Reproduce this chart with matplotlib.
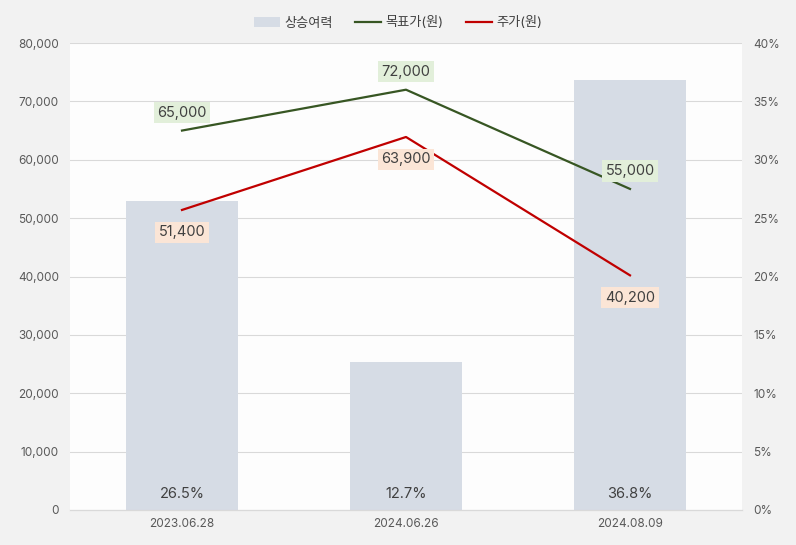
import matplotlib

matplotlib.use("Agg")
import matplotlib.pyplot as plt
from matplotlib.patches import Patch
from matplotlib.lines import Line2D
from matplotlib.ticker import FuncFormatter

plt.rcParams["font.family"] = ["Inter", "Noto Sans CJK KR", "DejaVu Sans"]

# chart data
dates = ["2023.06.28", "2024.06.26", "2024.08.09"]
upside_pct = [26.5, 12.7, 36.8]
target_price = [65000, 72000, 55000]
stock_price = [51400, 63900, 40200]

BAR_COLOR = "#d6dce5"
TARGET_COLOR = "#375623"
PRICE_COLOR = "#c00000"
TICK_COLOR = "#595959"

fig = plt.figure(figsize=(7.96, 5.45), dpi=100, facecolor="#f2f2f2")
ax2 = fig.add_axes([70 / 796, 1 - 510 / 545, 672 / 796, 467 / 545])
ax = ax2.twinx()
ax.yaxis.tick_left()
ax2.yaxis.tick_right()

x = list(range(len(dates)))

# bars (right axis, percent) sit above the grid, below the lines
ax2.set_facecolor("#fdfdfd")
ax2.bar(x, upside_pct, width=0.5, color=BAR_COLOR, zorder=2)
ax2.set_ylim(0, 40)
ax2.set_yticks(range(0, 41, 5))
ax2.yaxis.set_major_formatter(FuncFormatter(lambda v, _: f"{v:.0f}%"))
ax2.grid(axis="y", color="#d9d9d9", lw=0.8, zorder=0)
for xi, p in zip(x, upside_pct):
    ax2.annotate(f"{p:.1f}%", (xi, 0), textcoords="offset points", xytext=(0, 11.5),
                 ha="center", va="center", fontsize=10.5, color="#404040", zorder=3)

# lines (left axis, won)
ax.set_zorder(ax2.get_zorder() + 1)
ax.patch.set_visible(False)
ax.plot(x, target_price, color=TARGET_COLOR, lw=1.6)
ax.plot(x, stock_price, color=PRICE_COLOR, lw=1.6)
ax.set_ylim(0, 80000)
ax.set_yticks(range(0, 80001, 10000))
ax.yaxis.set_major_formatter(FuncFormatter(lambda v, _: f"{v:,.0f}"))

for xi, v in zip(x, target_price):
    ax.annotate(f"{v:,}", (xi, v), textcoords="offset points", xytext=(0, 13),
                ha="center", va="center", fontsize=10.5, color="#404040",
                bbox=dict(boxstyle="square,pad=0.25", fc="#e2efda", ec="none"))
for xi, v in zip(x, stock_price):
    ax.annotate(f"{v:,}", (xi, v), textcoords="offset points", xytext=(0, -16),
                ha="center", va="center", fontsize=10.5, color="#404040",
                bbox=dict(boxstyle="square,pad=0.25", fc="#fbe5d6", ec="none"))

ax2.set_xlim(-0.5, len(dates) - 0.5)
ax2.set_xticks(x)
ax2.set_xticklabels(dates)

for a in (ax, ax2):
    for side in ("top", "left", "right"):
        a.spines[side].set_visible(False)
    a.spines["bottom"].set_color("#d9d9d9")
    a.tick_params(length=0, labelsize=8.5, colors=TICK_COLOR, pad=8)
ax2.tick_params(axis="x", pad=6)

handles = [
    Patch(facecolor=BAR_COLOR, edgecolor="none"),
    Line2D([], [], color=TARGET_COLOR, lw=1.6),
    Line2D([], [], color=PRICE_COLOR, lw=1.6),
]
fig.legend(handles, ["상승여력", "목표가(원)", "주가(원)"], loc="center",
           bbox_to_anchor=(0.5, 1 - 23 / 545), ncol=3, frameon=False,
           fontsize=9.5, labelcolor="#404040", handlelength=2.0, columnspacing=1.7,
           handletextpad=0.3)

fig.savefig("out.png", dpi=100, facecolor=fig.get_facecolor())
